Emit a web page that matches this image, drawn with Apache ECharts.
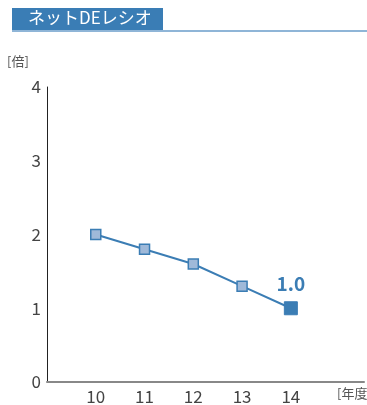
<!DOCTYPE html>
<html>
<head>
<meta charset="utf-8">
<script src="https://cdn.jsdelivr.net/npm/echarts@6/dist/echarts.min.js"></script>
<style>
  html, body { margin: 0; padding: 0; background: #fff; }
  #chart { width: 367px; height: 405px; }
</style>
</head>
<body>
<div id="chart"></div>
<script>
// ネットDEレシオ (倍)
var years = [10, 11, 12, 13, 14];
var ratios = [2.0, 1.8, 1.6, 1.3, 1.0];
var yTicks = [0, 1, 2, 3, 4];

var FONT = '"Noto Sans CJK JP", "Noto Sans", sans-serif';
var BLUE = '#3b7db4';

var points = years.map(function (y, i) {
  var last = i === years.length - 1;
  return {
    value: [y, ratios[i]],
    symbolSize: last ? 13 : 10,
    itemStyle: last
      ? { color: BLUE, borderColor: BLUE, borderWidth: 1 }
      : { color: '#9fb9d9', borderColor: BLUE, borderWidth: 1.5 },
    label: last ? {
      show: true, position: 'top', distance: 8,
      formatter: function (p) { return p.value[1].toFixed(1); },
      color: BLUE, fontSize: 19, fontWeight: 'bold', fontFamily: FONT
    } : { show: false }
  };
});

var chart = echarts.init(document.getElementById('chart'));
chart.setOption({
  animation: false,
  grid: { left: 47, right: 0, top: 87, bottom: 22 },
  xAxis: {
    type: 'value', min: 9, max: 15.5, interval: 1,
    axisLine: { lineStyle: { color: '#888', width: 2 } },
    axisTick: { show: false },
    splitLine: { show: false },
    axisLabel: {
      color: '#444', fontSize: 17, fontFamily: FONT, margin: 6,
      formatter: function (v) { return years.indexOf(v) >= 0 ? String(v) : ''; }
    }
  },
  yAxis: {
    type: 'value', min: yTicks[0], max: yTicks[yTicks.length - 1], interval: 1,
    axisLine: { show: true, lineStyle: { color: '#222', width: 1 } },
    axisTick: { show: false },
    splitLine: { show: false },
    axisLabel: { color: '#444', fontSize: 17, fontFamily: FONT, margin: 6 }
  },
  graphic: [
    { type: 'rect', left: 12, top: 8, shape: { width: 151, height: 23 }, style: { fill: '#3a7db5' } },
    { type: 'rect', left: 12, top: 30, shape: { width: 355, height: 2 }, style: { fill: '#8fb5d7' } },
    { type: 'text', left: 28, top: 9, style: { text: 'ネットDEレシオ', fill: '#fff', font: '17px ' + FONT } },
    { type: 'text', left: 7, top: 55, style: { text: '[倍]', fill: '#555', font: '13px ' + FONT } },
    { type: 'text', left: 337, top: 387, style: { text: '[年度]', fill: '#555', font: '13px ' + FONT } }
  ],
  series: [{
    type: 'line',
    data: points,
    symbol: 'rect',
    lineStyle: { color: BLUE, width: 2 },
    z: 3
  }]
});
</script>
</body>
</html>
